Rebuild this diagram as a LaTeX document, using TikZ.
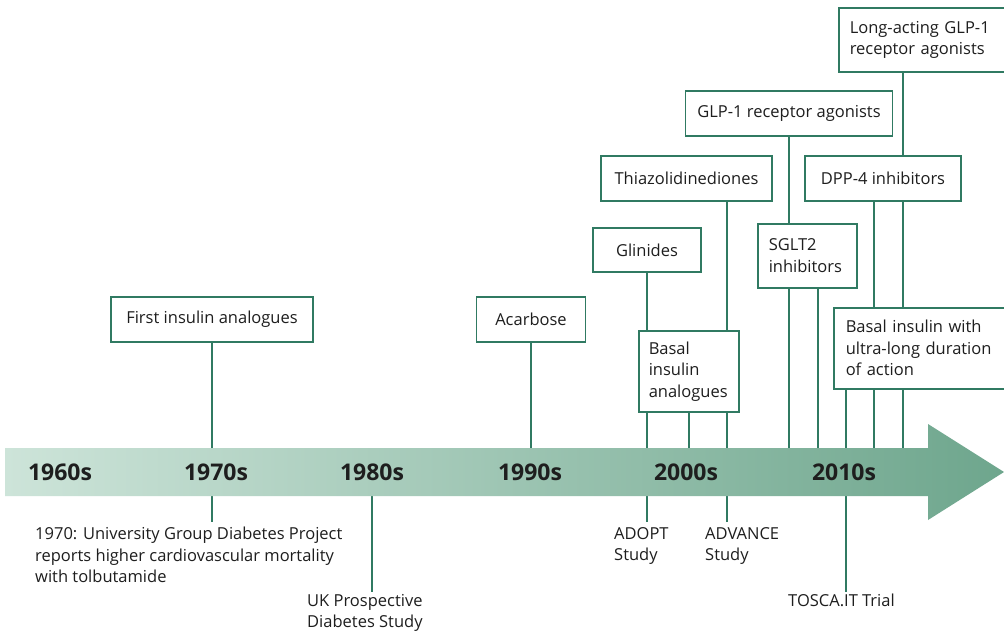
\documentclass[tikz,border=0pt]{standalone}
\usepackage{fontspec}
\setmainfont{Open Sans}
\usetikzlibrary{backgrounds}
\definecolor{lineteal}{RGB}{48,122,98}
\definecolor{arrowlight}{RGB}{205,228,217}
\definecolor{arrowdark}{RGB}{110,166,141}
\definecolor{inkgray}{RGB}{30,30,30}
\newcommand{\boxfont}{\fontsize{16.5}{21.5}\selectfont}
\newcommand{\decfont}{\fontsize{23}{23}\selectfont\bfseries}

\begin{document}
\begin{tikzpicture}[x=1pt,y=-1pt,
  drug/.style={draw=lineteal, line width=1.5pt, fill=white, text=inkgray, font=\boxfont, inner xsep=0pt, inner ysep=0pt, minimum height=45pt},
  drugtall/.style={drug, anchor=north west, align=left, inner xsep=11pt},
  decade/.style={text=inkgray, font=\decfont},
  study/.style={text=inkgray, font=\boxfont, align=left, anchor=north west, inner sep=2pt},
  link/.style={draw=lineteal, line width=1.6pt}]

\useasboundingbox (0,0) rectangle (1004,638);

\shade[left color=arrowlight, right color=arrowdark] (5,448) -- (928,448) -- (928,424) -- (1004,472) -- (928,520) -- (928,496) -- (5,496) -- cycle;
\coordinate (top) at (0,448);
\coordinate (bot) at (0,496);

\node[decade] (d60) at (60,472) {1960s};
\node[decade] (d70) at (216,472) {1970s};
\node[decade] (d80) at (372,472) {1980s};
\node[decade] (d90) at (530,472) {1990s};
\node[decade] (d00) at (686,472) {2000s};
\node[decade] (d10) at (844,472) {2010s};

\node[drug, minimum width=202pt] (first) at (212,319.5) {First insulin analogues};
\node[drug, minimum width=109pt] (acarbose) at (531,319.5) {Acarbose};
\node[drug, minimum width=108pt, minimum height=44pt] (glinides) at (647,250) {Glinides};
\node[drug, minimum width=171pt] (thiazo) at (686.5,178.5) {Thiazolidinediones};
\node[drug, minimum width=207pt] (glp1) at (789,113.5) {GLP-1 receptor agonists};
\node[drug, minimum width=156pt] (dpp4) at (883,178.5) {DPP-4 inhibitors};
\node[drugtall, text width=77pt, minimum height=64pt] (sglt2) at (757,223) {SGLT2\\inhibitors};
\node[drugtall, text width=80pt, inner xsep=10pt, minimum height=81pt] (basalan) at (638,330) {Basal\\insulin\\analogues};
\node[drugtall, text width=175pt, minimum height=64pt] (longglp) at (838,7) {Long-acting GLP-1\\receptor agonists};
\node[drugtall, text width=175pt, inner xsep=12pt, minimum height=81pt] (ultra) at (833,307) {Basal insulin with\\ultra-long duration\\of action};

\node[study] (ugdp) at (33,525) {1970: University Group Diabetes Project\\reports higher cardiovascular mortality\\with tolbutamide};
\node[study] (ukpds) at (305,592) {UK Prospective\\Diabetes Study};
\node[study] (adopt) at (612,525) {ADOPT\\Study};
\node[study] (advance) at (703,525) {ADVANCE\\Study};
\node[study] (tosca) at (786,592) {TOSCA.IT Trial};

\coordinate (tzline) at ([xshift=-46pt]thiazo.south east);
\coordinate (sgline) at ([xshift=10.5pt]sglt2.south);
\coordinate (dppline) at ([xshift=-9pt]dpp4.south);
\coordinate (longline) at ([xshift=65pt]longglp.south west);
\coordinate (ultraline) at ([xshift=13pt]ultra.south west);

\begin{scope}[on background layer]
\fill[white] (0,0) rectangle (1004,638);
\draw[link] (first.south) -- (first |- top);
\draw[link] (first |- bot) -- ([yshift=3pt]first |- ugdp.north);
\draw[link] (d80 |- bot) -- (d80 |- ukpds.north);
\draw[link] (acarbose.south) -- (acarbose |- top);
\draw[link] (glinides.south) -- (glinides |- top);
\draw[link] (glinides |- bot) -- ([yshift=3pt]glinides |- adopt.north);
\draw[link] (tzline) -- (tzline |- top);
\draw[link] (tzline |- bot) -- ([yshift=3pt]tzline |- advance.north);
\draw[link] (basalan.south) -- (basalan |- top);
\draw[link] (glp1.south) -- (glp1 |- top);
\draw[link] (sgline) -- (sgline |- top);
\draw[link] (dppline) -- (dppline |- top);
\draw[link] (longline) -- (longline |- top);
\draw[link] (ultraline) -- (ultraline |- top);
\draw[link] (ultraline |- bot) -- (ultraline |- tosca.north);
\end{scope}
\end{tikzpicture}
\end{document}
